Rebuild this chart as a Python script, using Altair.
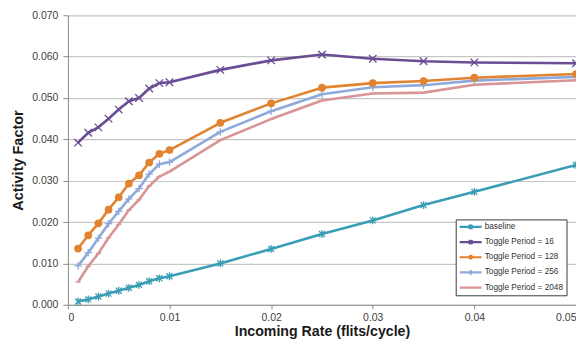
import altair as alt
import pandas as pd

# ---- data ----
RATES = [0.001, 0.002, 0.003, 0.004, 0.005, 0.006, 0.007, 0.008, 0.009, 0.010,
         0.015, 0.020, 0.025, 0.030, 0.035, 0.040, 0.050]
BASELINE = [0.0008, 0.0013, 0.0020, 0.0027, 0.0034, 0.0041, 0.0048, 0.0057, 0.0064, 0.0069,
            0.0100, 0.0135, 0.0171, 0.0204, 0.0241, 0.0273, 0.0338]
TP16 = [0.0392, 0.0416, 0.0429, 0.0450, 0.0472, 0.0492, 0.0500, 0.0523, 0.0536, 0.0538,
        0.0568, 0.0591, 0.0605, 0.0595, 0.0589, 0.0586, 0.0584]
TP128 = [0.0136, 0.0168, 0.0197, 0.0230, 0.0260, 0.0293, 0.0313, 0.0344, 0.0365, 0.0374,
         0.0440, 0.0487, 0.0525, 0.0536, 0.0541, 0.0549, 0.0558]
TP256 = [0.0094, 0.0126, 0.0161, 0.0196, 0.0226, 0.0256, 0.0281, 0.0316, 0.0340, 0.0345,
         0.0418, 0.0468, 0.0509, 0.0526, 0.0531, 0.0542, 0.0551]
TP2048 = [0.0055, 0.0093, 0.0124, 0.0162, 0.0194, 0.0229, 0.0254, 0.0287, 0.0310, 0.0322,
          0.0398, 0.0449, 0.0494, 0.0511, 0.0513, 0.0532, 0.0543]

SERIES = ["baseline", "Toggle Period = 16", "Toggle Period = 128",
          "Toggle Period = 256", "Toggle Period = 2048"]
VALUES = [BASELINE, TP16, TP128, TP256, TP2048]
X_TICKS = [0, 0.01, 0.02, 0.03, 0.04, 0.05]
Y_TICKS = [0, 0.01, 0.02, 0.03, 0.04, 0.05, 0.06, 0.07]

# ---- styles ----
COLORS = ["#3A9DB6", "#6A4D94", "#E2832F", "#8FAADA", "#D99495"]
MARKERS = [
    "M-0.8,-0.8L0.8,0.8M-0.8,0.8L0.8,-0.8M0,-1.05L0,1.05",  # asterisk
    "M-1,-1L1,1M-1,1L1,-1",                                 # x
    "circle",                                               # (drawn in own layer)
    "M-1,0L1,0M0,-1L0,1",                                   # plus
    "M-0.7,0L0.7,0",                                        # dash
]
LEG_PATHS = [
    "M-1,0L1,0M-0.17,-0.17L0.17,0.17M-0.17,0.17L0.17,-0.17M0,-0.22L0,0.22",
    "M-1,0L1,0M-0.17,-0.17L0.17,0.17M-0.17,0.17L0.17,-0.17",
    "M-1,0L1,0M0.12,0A0.12,0.12 0 1,1 -0.12,0A0.12,0.12 0 1,1 0.12,0",
    "M-1,0L1,0M0,-0.22L0,0.22",
    "M-1,0L1,0",
]
FONT = "Liberation Sans"

rows = []
for s, vals in zip(SERIES, VALUES):
    for x, v in zip(RATES, vals):
        rows.append({"rate": x, "value": v, "series": s})
df = pd.DataFrame(rows)

xenc = alt.X("rate:Q", scale=alt.Scale(domain=[0, 0.05], nice=False),
             axis=alt.Axis(title="Incoming Rate (flits/cycle)", values=X_TICKS,
                           labelExpr="datum.value == 0 ? '0' : format(datum.value, '.2f')",
                           grid=False, tickSize=4, labelPadding=4,
                           titleY=31, titleBaseline="alphabetic", titleFontSize=14.2))
yenc = alt.Y("value:Q", scale=alt.Scale(domain=[0, 0.07], nice=False),
             axis=alt.Axis(title="Activity Factor", values=Y_TICKS, format=".3f",
                           grid=True, tickSize=5, labelPadding=5, titlePadding=6))

def color_enc(legend=None):
    return alt.Color("series:N", scale=alt.Scale(domain=SERIES, range=COLORS), legend=legend)

lines = alt.Chart(df).mark_line(strokeWidth=2.6, strokeJoin="round").encode(
    x=xenc, y=yenc, color=color_enc(), detail="series:N", order="rate:Q")

points = alt.Chart(df).transform_filter(
    "datum.series != 'Toggle Period = 128'"
).mark_point(filled=False, size=56, strokeWidth=1.3, opacity=1).encode(
    x=xenc, y=yenc, color=color_enc(),
    shape=alt.Shape("series:N", scale=alt.Scale(domain=SERIES, range=MARKERS), legend=None))

dots = alt.Chart(df).transform_filter(
    "datum.series == 'Toggle Period = 128'"
).mark_point(filled=True, shape="circle", size=60, opacity=1).encode(
    x=xenc, y=yenc, color=color_enc())

legend = alt.Legend(title=None, orient="none", legendX=388.5, legendY=204.5,
                    symbolSize=484, symbolStrokeWidth=2.2, clipHeight=10, rowPadding=5.2,
                    padding=2.5, labelOffset=1.5, labelFontSize=8.3, labelFont=FONT,
                    labelColor="#333333", labelLimit=0, strokeColor="#3c3c3c",
                    fillColor="white", symbolOpacity=1)
leg = alt.Chart(df).transform_filter("false").mark_point(
    filled=False, opacity=1, strokeWidth=2.2).encode(
    x=xenc, y=yenc,
    color=alt.Color("series:N", scale=alt.Scale(domain=SERIES, range=COLORS), legend=legend),
    shape=alt.Shape("series:N", scale=alt.Scale(domain=SERIES, range=LEG_PATHS), legend=legend))

chart = alt.layer(lines, points, dots, leg).resolve_scale(
    color="independent", shape="independent"
).properties(
    width=509, height=290,
    autosize=alt.AutoSizeParams(type="none"),
    padding={"left": 60, "top": 7, "right": 0, "bottom": 34},
).configure_view(stroke=None).configure_axis(
    labelFont=FONT, labelFontSize=10.5, labelColor="#404040",
    titleFont=FONT, titleFontSize=14.5, titleFontWeight="bold", titleColor="#1a1a1a",
    domainColor="#8a8a8a", tickColor="#8a8a8a", gridColor="#c6c6c6", gridWidth=1.2,
)

chart.save("out.html", embed_options={"renderer": "svg", "actions": False})
